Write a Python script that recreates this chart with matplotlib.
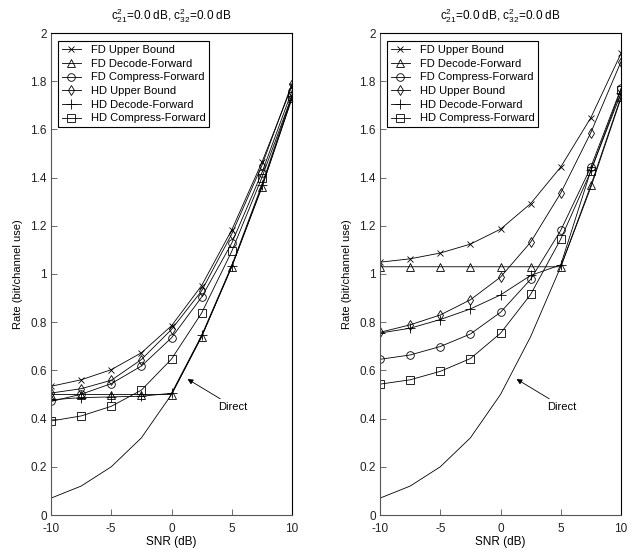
import numpy as np
import matplotlib
matplotlib.use("Agg")
import matplotlib.pyplot as plt

plt.rcParams['font.family'] = ['Liberation Sans', 'DejaVu Sans']
plt.rcParams['mathtext.fontset'] = 'custom'
plt.rcParams['mathtext.rm'] = 'Liberation Sans'
plt.rcParams['mathtext.it'] = 'Liberation Sans'
plt.rcParams['font.size'] = 8
plt.rcParams['axes.unicode_minus'] = False

snr = [-10, -7.5, -5, -2.5, 0, 2.5, 5, 7.5, 10]
direct = [0.07, 0.12, 0.20, 0.32, 0.50, 0.74, 1.03, 1.36, 1.73]

# left panel
fd_ub_1 = [0.534, 0.561, 0.603, 0.673, 0.785, 0.952, 1.183, 1.463, 1.78]
fd_df_1 = [0.50, 0.50, 0.50, 0.50, 0.50, 0.74, 1.03, 1.36, 1.73]
fd_cf_1 = [0.471, 0.501, 0.545, 0.618, 0.735, 0.904, 1.128, 1.42, 1.76]
hd_ub_1 = [0.506, 0.524, 0.559, 0.645, 0.77, 0.93, 1.166, 1.45, 1.79]
hd_df_1 = [0.478, 0.487, 0.49, 0.493, 0.505, 0.745, 1.035, 1.37, 1.74]
hd_cf_1 = [0.39, 0.411, 0.451, 0.518, 0.647, 0.838, 1.094, 1.40, 1.74]

# right panel
fd_ub_2 = [1.049, 1.063, 1.087, 1.124, 1.186, 1.292, 1.444, 1.649, 1.915]
fd_df_2 = [1.03, 1.03, 1.03, 1.03, 1.03, 1.03, 1.03, 1.368, 1.735]
fd_cf_2 = [0.646, 0.664, 0.699, 0.751, 0.841, 0.978, 1.181, 1.444, 1.77]
hd_ub_2 = [0.758, 0.789, 0.830, 0.893, 0.987, 1.132, 1.336, 1.587, 1.881]
hd_df_2 = [0.755, 0.775, 0.811, 0.855, 0.913, 0.994, 1.038, 1.43, 1.75]
hd_cf_2 = [0.543, 0.561, 0.596, 0.649, 0.754, 0.915, 1.145, 1.427, 1.765]

labels = ['FD Upper Bound', 'FD Decode-Forward', 'FD Compress-Forward',
          'HD Upper Bound', 'HD Decode-Forward', 'HD Compress-Forward']
markers = ['x', '^', 'o', 'd', '+', 's']
sizes = [4.5, 5.5, 5.5, 5.5, 7.5, 5.5]

panels = [
    [fd_ub_1, fd_df_1, fd_cf_1, hd_ub_1, hd_df_1, hd_cf_1],
    [fd_ub_2, fd_df_2, fd_cf_2, hd_ub_2, hd_df_2, hd_cf_2],
]

fig = plt.figure(figsize=(6.39, 5.5), dpi=100)
lefts = [51 / 639, 380 / 639]
gray = '#555555'

for left, curves in zip(lefts, panels):
    ax = fig.add_axes([left, 35 / 550, 241 / 639, 482 / 550])
    for y, lab, m, ms in zip(curves, labels, markers, sizes):
        ax.plot(snr, y, color='black', lw=0.6, marker=m, ms=ms,
                mfc='none', mec='black', mew=0.6, label=lab)
    ax.plot(snr, direct, color='black', lw=0.6)

    ax.annotate('Direct', xy=(1.33, 0.564), xytext=(3.9, 0.45),
                fontsize=8, va='center', ha='left',
                arrowprops=dict(arrowstyle='-|>', color='black', lw=0.6,
                                mutation_scale=8, shrinkA=0, shrinkB=0))

    ax.set_xlim(-10, 10)
    ax.set_ylim(0, 2)
    ax.set_xticks([-10, -5, 0, 5, 10])
    ax.set_yticks(np.arange(0, 2.01, 0.2))
    ax.set_yticklabels(['0', '0.2', '0.4', '0.6', '0.8', '1', '1.2', '1.4',
                        '1.6', '1.8', '2'])
    ax.tick_params(direction='in', length=4, width=0.6, colors=gray,
                   labelcolor='#222222', labelsize=8.5)
    ax.tick_params(axis='x', pad=5.5)
    ax.tick_params(axis='y', pad=3)
    for s in ['left', 'bottom']:
        ax.spines[s].set_color(gray)
    for s in ['top', 'right']:
        ax.spines[s].set_color('black')
    for s in ax.spines.values():
        s.set_linewidth(0.8)

    ax.set_xlabel('SNR (dB)', fontsize=8.5, labelpad=1)
    ax.set_ylabel('Rate (bit/channel use)', fontsize=8, labelpad=5)
    ax.set_title(r'c$^2_{21}$=0.0 dB, c$^2_{32}$=0.0 dB', fontsize=8.5, pad=10)

    leg = ax.legend(loc='upper left', bbox_to_anchor=(0.029, 0.983),
                    borderaxespad=0, fancybox=False, framealpha=1,
                    edgecolor='black', fontsize=8, handlelength=1.7,
                    handletextpad=0.9, labelspacing=0.33, borderpad=0.35)
    leg.get_frame().set_linewidth(0.8)

fig.savefig('out.png', dpi=100)
